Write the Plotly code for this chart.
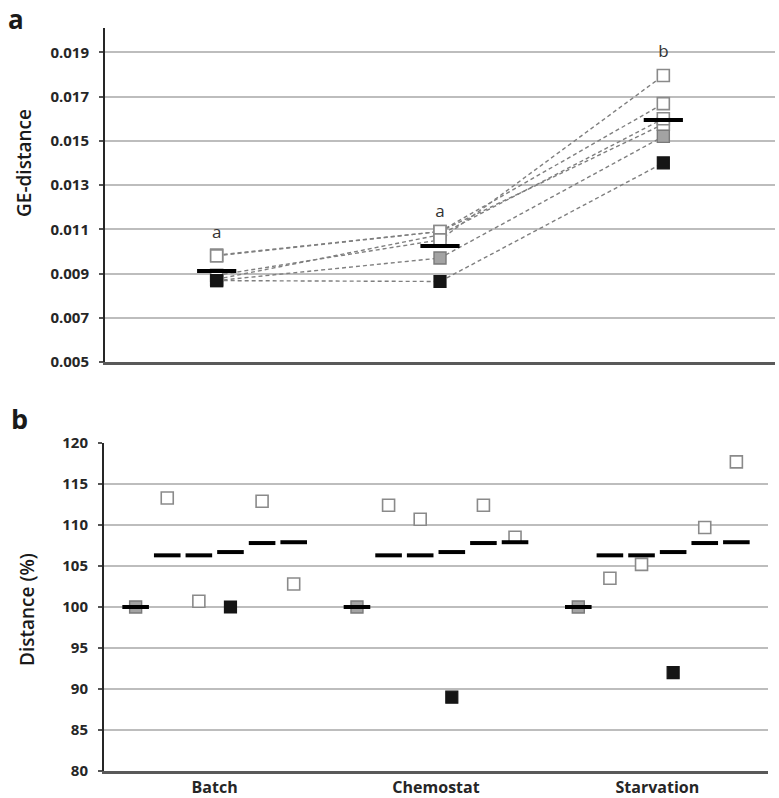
import plotly.graph_objects as go

# ---------------- data ----------------
conditions = ["Batch", "Chemostat", "Starvation"]

# panel a : GE-distance per strain/series
ge_gray = [0.00868, 0.00970, 0.01520]
ge_open1 = [0.00983, 0.01090, 0.01575]
ge_open2 = [0.00874, 0.01075, 0.01600]
ge_black = [0.00868, 0.00864, 0.01400]
ge_open3 = [0.00980, 0.01090, 0.01668]
ge_open4 = [0.00892, 0.01052, 0.01795]
ge_mean = [0.00911, 0.01024, 0.01594]
sig_letters = ["a", "a", "b"]
sig_letter_y = [0.01080, 0.01175, 0.01900]

# panel b : distance (%) per series
pct_gray = [100.0, 100.0, 100.0]
pct_open1 = [113.3, 112.4, 103.5]
pct_open2 = [100.7, 110.7, 105.2]
pct_black = [100.0, 89.0, 92.0]
pct_open3 = [112.9, 112.4, 109.7]
pct_open4 = [102.8, 108.5, 117.7]
pct_ref = [100.0, 106.3, 106.3, 106.7, 107.8, 107.9]  # black dash per slot

# ---------------- styles ----------------
OPEN = dict(symbol="square", size=12, color="white", line=dict(color="#8a8a8a", width=1.6))
GRAY = dict(symbol="square", size=12, color="#a3a3a3", line=dict(color="#7a7a7a", width=1.4))
BLACK = dict(symbol="square", size=12, color="#151515", line=dict(color="#151515", width=1.2))

series_a = [(ge_gray, GRAY), (ge_open1, OPEN), (ge_open2, OPEN),
            (ge_black, BLACK), (ge_open3, OPEN), (ge_open4, OPEN)]
series_b = [(pct_gray, GRAY), (pct_open1, OPEN), (pct_open2, OPEN),
            (pct_black, BLACK), (pct_open3, OPEN), (pct_open4, OPEN)]

fig = go.Figure()

# panel a: dashed connecting lines first
for vals, _ in series_a:
    fig.add_trace(go.Scatter(x=conditions, y=vals, mode="lines",
                             line=dict(color="#7f7f7f", width=1.4, dash="4px,3px"),
                             xaxis="x", yaxis="y", offsetgroup="A",
                             hoverinfo="skip", showlegend=False))
# panel a markers (open ones first, then gray, then black on top)
order = [1, 2, 4, 5, 0, 3]
for i in order:
    vals, mk = series_a[i]
    fig.add_trace(go.Scatter(x=conditions, y=vals, mode="markers", marker=mk,
                             xaxis="x", yaxis="y", offsetgroup="A", showlegend=False))
# panel a means
fig.add_trace(go.Scatter(x=conditions, y=ge_mean, mode="markers",
                         marker=dict(symbol="line-ew", size=28, line=dict(color="black", width=4)),
                         xaxis="x", yaxis="y", offsetgroup="A", showlegend=False))
# significance letters
fig.add_trace(go.Scatter(x=conditions, y=sig_letter_y, mode="text", text=sig_letters,
                         textfont=dict(family="Open Sans, sans-serif", size=17, color="#333"),
                         xaxis="x", yaxis="y", offsetgroup="A", showlegend=False))

# panel b: squares then dashes, one offset slot per series
for k, (vals, mk) in enumerate(series_b):
    fig.add_trace(go.Scatter(x=conditions, y=vals, mode="markers", marker=mk,
                             xaxis="x2", yaxis="y2", offsetgroup=str(k), showlegend=False))
for k in range(len(series_b)):
    fig.add_trace(go.Scatter(x=conditions, y=[pct_ref[k]] * len(conditions), mode="markers",
                             marker=dict(symbol="line-ew", size=19, line=dict(color="black", width=4)),
                             xaxis="x2", yaxis="y2", offsetgroup=str(k), showlegend=False))

W, H = 779, 798
def fx(px):
    return px / W
def fy(py):
    return 1 - py / H

tickfont = dict(family="Open Sans, sans-serif", size=15, color="#262626", weight="bold")

def label(text, px, py, size, weight, angle=0):
    return dict(text=text, x=fx(px), y=fy(py), xref="paper", yref="paper",
                xanchor="center", yanchor="middle", showarrow=False, textangle=angle,
                font=dict(family="Open Sans, sans-serif", size=size, color="#1a1a1a", weight=weight))

fig.update_layout(
    width=W, height=H,
    margin=dict(l=0, r=0, t=0, b=0, autoexpand=False),
    paper_bgcolor="white", plot_bgcolor="white",
    scattermode="group", scattergap=0.143,
    showlegend=False,
    xaxis=dict(domain=[fx(105), fx(775)], type="category", anchor="y",
               showline=True, linecolor="#595959", linewidth=2.5,
               showgrid=False, showticklabels=False, ticks="", range=[-0.5, 2.5]),
    yaxis=dict(domain=[fy(362), fy(28)], anchor="x", range=[0.005, 0.0201],
               tick0=0.005, dtick=0.002, tickformat=".3f",
               showline=True, linecolor="#262626", linewidth=2,
               ticks="outside", ticklen=4, tickcolor="#555", tickwidth=1.5,
               showgrid=True, gridcolor="#bdbdbd", gridwidth=1.5, zeroline=False,
               tickfont=tickfont, ticklabelstandoff=7),
    xaxis2=dict(domain=[fx(104), fx(768)], type="category", anchor="y2",
                showline=True, linecolor="#595959", linewidth=2.5,
                showgrid=False, ticks="", range=[-0.5, 2.5],
                tickfont=dict(family="Open Sans, sans-serif", size=16, color="#262626", weight="bold"),
                ticklabelstandoff=0),
    yaxis2=dict(domain=[fy(771), fy(443)], anchor="x2", range=[80, 120],
                tick0=80, dtick=5,
                showline=True, linecolor="#262626", linewidth=2,
                ticks="outside", ticklen=4, tickcolor="#555", tickwidth=1.5,
                showgrid=True, gridcolor="#bdbdbd", gridwidth=1.5, zeroline=False,
                tickfont=tickfont, ticklabelstandoff=7),
    annotations=[
        label("a", 16, 19, 26, "bold"),
        label("b", 19, 418, 27, "bold"),
        label("GE-distance", 24, 163, 19, 600, -90),
        label("Distance (%)", 27, 610, 19, 600, -90),
    ],
)

fig.write_html("out.html", config={"displayModeBar": False},
               post_script="document.body.style.margin='0';")
